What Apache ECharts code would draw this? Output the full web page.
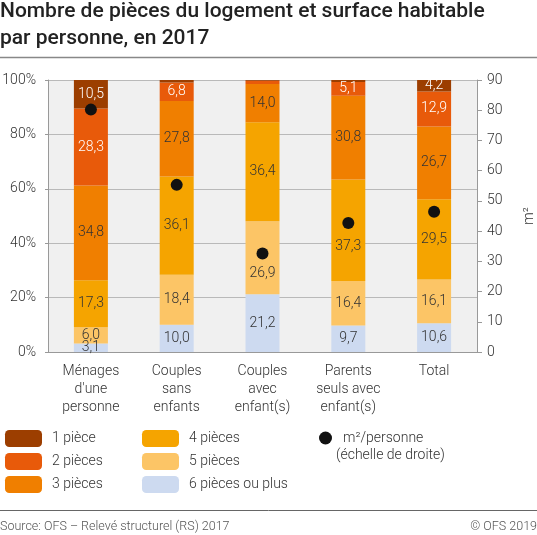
<!DOCTYPE html>
<html>
<head>
<meta charset="utf-8">
<script src="https://cdn.jsdelivr.net/npm/echarts@6/dist/echarts.min.js"></script>
<style>
  html, body { margin: 0; padding: 0; background: #fff; }
  #chart { width: 537px; height: 535px; }
</style>
</head>
<body>
<div id="chart"></div>
<script>
// categories (x axis)
const categories = ["Ménages\nd'une\npersonne", 'Couples\nsans\nenfants', 'Couples\navec\nenfant(s)', 'Parents\nseuls avec\nenfant(s)', 'Total'];

// share of households in %, per number of rooms
const rooms6 = [3.1, 10.0, 21.2, 9.7, 10.6];
const rooms5 = [6.0, 18.4, 26.9, 16.4, 16.1];
const rooms4 = [17.3, 36.1, 36.4, 37.3, 29.5];
const rooms3 = [34.8, 27.8, 14.0, 30.8, 26.7];
const rooms2 = [28.3, 6.8, 1.2, 5.1, 12.9];
const rooms1 = [10.5, 0.9, 0.3, 0.7, 4.2];

// m2 per person (right scale)
const m2PerPerson = [80.2, 55.3, 32.6, 42.7, 46.4];

const leftTicks = { min: 0, max: 100, interval: 20 };
const rightTicks = { min: 0, max: 90, interval: 10 };

// labels pushed down so the dot stays readable: series -> {category index: dy}
const labelNudge = {
	'5 pièces': { 2: 16 },
	'4 pièces': { 3: 16 }
};

const FONT = 'Roboto';

function fmt(v) {
	return v.toFixed(1).replace('.', ',');
}

function barSeries(name, data, color, labelColor) {
	const nudge = labelNudge[name] || {};
	return {
		name: name,
		type: 'bar',
		stack: 'rooms',
		data: data.map((v, i) => (nudge[i] ? { value: v, label: { offset: [0, nudge[i]] } } : v)),
		barWidth: 34,
		itemStyle: { color: color },
		label: {
			show: true,
			position: 'inside',
			fontFamily: FONT,
			fontSize: 14,
			fontWeight: 300,
			color: labelColor,
			formatter: p => (p.value < 2 ? '' : fmt(p.value))
		},
		z: 2
	};
}

const chart = echarts.init(document.getElementById('chart'));

const legendText = { fontFamily: FONT, fontSize: 14, fontWeight: 300, color: '#333', padding: [0, 0, 0, 5] };

const option = {
	backgroundColor: '#fff',
	animation: false,
	textStyle: { fontFamily: FONT },
	title: {
		text: 'Nombre de pièces du logement et surface habitable\npar personne, en 2017',
		left: 0,
		top: -2,
		padding: 0,
		textStyle: {
			fontFamily: FONT,
			fontSize: 21,
			fontWeight: 500,
			color: '#222',
			lineHeight: 27
		}
	},
	grid: {
		left: 48,
		right: 60,
		top: 80,
		bottom: 183,
		outerBoundsMode: 'none',
		containLabel: false,
		show: true,
		backgroundColor: '#f0f0f0',
		borderWidth: 0
	},
	legend: [
		{
			data: ['1 pièce', '2 pièces', '3 pièces'],
			orient: 'vertical',
			left: 0,
			top: 425,
			itemWidth: 37,
			itemHeight: 17,
			itemGap: 6,
			selectedMode: false,
			textStyle: legendText
		},
		{
			data: ['4 pièces', '5 pièces', '6 pièces ou plus'],
			orient: 'vertical',
			left: 137,
			top: 425,
			itemWidth: 37,
			itemHeight: 17,
			itemGap: 6,
			selectedMode: false,
			textStyle: legendText
		},
		{
			data: ['m²/personne'],
			orient: 'vertical',
			left: 314,
			top: 426,
			itemWidth: 13,
			itemHeight: 13,
			selectedMode: false,
			textStyle: Object.assign({}, legendText, { padding: [0, 0, 0, 6] })
		}
	],
	xAxis: {
		type: 'category',
		data: categories,
		axisLine: { lineStyle: { color: '#999' } },
		axisTick: { show: false },
		axisLabel: {
			interval: 0,
			fontFamily: FONT,
			fontSize: 14,
			fontWeight: 300,
			color: '#333',
			lineHeight: 18,
			margin: 10
		}
	},
	yAxis: [
		{
			type: 'value',
			min: leftTicks.min,
			max: leftTicks.max,
			interval: leftTicks.interval,
			axisLine: { show: true, lineStyle: { color: '#999' } },
			axisTick: { show: true, length: 3, lineStyle: { color: '#999' } },
			splitLine: { lineStyle: { color: '#b9b9b9' } },
			axisLabel: {
				formatter: '{value}%',
				fontFamily: FONT,
				fontSize: 14,
				fontWeight: 300,
				color: '#333',
				margin: 12
			}
		},
		{
			type: 'value',
			min: rightTicks.min,
			max: rightTicks.max,
			interval: rightTicks.interval,
			name: 'm²',
			nameLocation: 'middle',
			nameGap: 45,
			nameRotate: 90,
			nameTextStyle: { fontFamily: FONT, fontSize: 14, fontWeight: 300, color: '#333' },
			axisLine: { show: true, lineStyle: { color: '#999' } },
			axisTick: { show: true, length: 5, lineStyle: { color: '#999' } },
			splitLine: { show: false },
			axisLabel: {
				fontFamily: FONT,
				fontSize: 14,
				fontWeight: 300,
				color: '#333',
				margin: 10
			}
		}
	],
	series: [
		barSeries('6 pièces ou plus', rooms6, '#cddaf0', '#333'),
		barSeries('5 pièces', rooms5, '#fcc566', '#333'),
		barSeries('4 pièces', rooms4, '#f5a400', '#333'),
		barSeries('3 pièces', rooms3, '#f07f00', '#333'),
		barSeries('2 pièces', rooms2, '#e85a0a', '#fff'),
		barSeries('1 pièce', rooms1, '#9c3e00', '#fff'),
		{
			name: 'm²/personne',
			type: 'scatter',
			yAxisIndex: 1,
			data: m2PerPerson,
			symbol: 'circle',
			symbolSize: 12,
			itemStyle: { color: '#111', opacity: 1 },
			z: 5
		}
	],
	graphic: [
		{ type: 'line', shape: { x1: 0, y1: 57.5, x2: 537, y2: 57.5 }, style: { stroke: '#888', lineWidth: 1.5 } },
		{ type: 'line', shape: { x1: 0, y1: 510.5, x2: 537, y2: 510.5 }, style: { stroke: '#666', lineWidth: 1 } },
		{
			type: 'text', left: 336, top: 448,
			style: { text: '(échelle de droite)', font: '300 14px Roboto', fill: '#333' }
		},
		{
			type: 'text', left: 0, top: 520,
			style: { text: 'Source: OFS – Relevé structurel (RS) 2017', font: '300 12.5px Roboto', fill: '#555' }
		},
		{
			type: 'text', right: 0, top: 520,
			style: { text: '© OFS 2019', font: '300 12.5px Roboto', fill: '#555' }
		}
	]
};

chart.setOption(option);
</script>
</body>
</html>
